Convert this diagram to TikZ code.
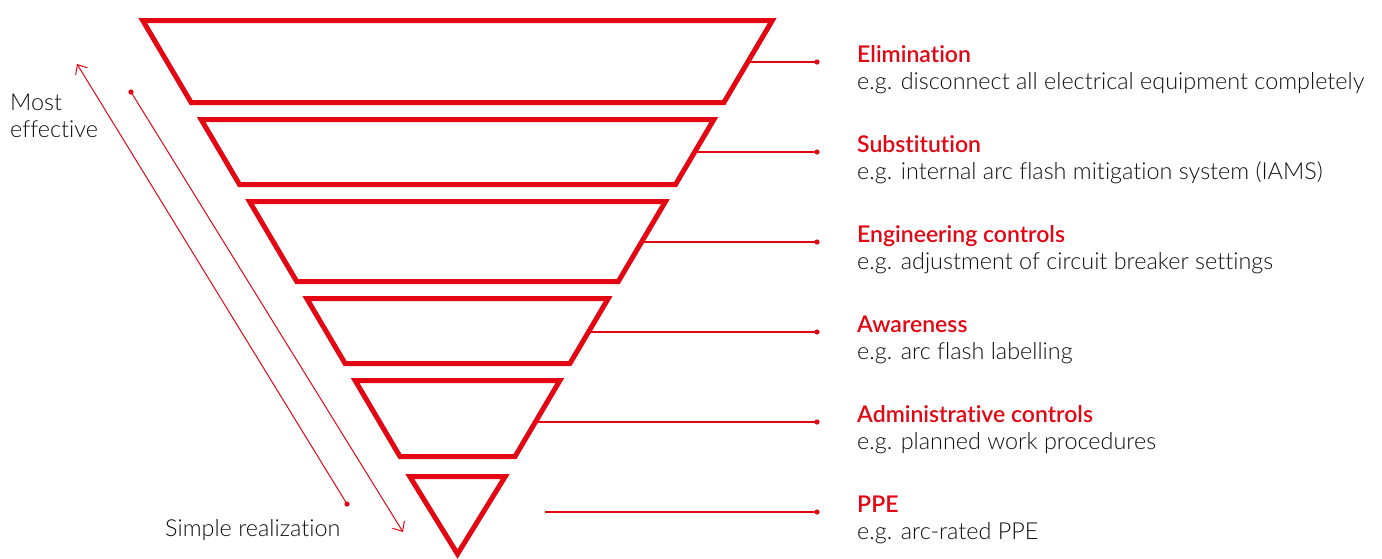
\documentclass[tikz,border=0pt]{standalone}
\usepackage{fontspec}
\setmainfont{Lato}[UprightFont=* Light, BoldFont=* Semibold, Ligatures=NoCommon]
\usetikzlibrary{arrows.meta}
\definecolor{abbred}{RGB}{227,6,19}
\definecolor{textgrey}{RGB}{15,15,15}

\begin{document}
\begin{tikzpicture}[x=1pt, y=-1pt,
        tier/.style={draw=abbred, line width=5pt, fill=white},
        leader/.style={draw=abbred, line width=1.1pt},
        cim/.style={anchor=base west, inner sep=0pt, text=abbred, font=\fontsize{23}{27}\selectfont\bfseries},
        pelda/.style={anchor=base west, inner sep=0pt, text=textgrey, font=\fontsize{23.4}{27}\selectfont},
        felirat/.style={anchor=base west, inner sep=0pt, text=textgrey, font=\fontsize{23.4}{27}\selectfont}]
        \useasboundingbox (0,0) rectangle (1382,558);
        \pgfmathsetmacro{\kozep}{457.5}
        \pgfmathsetmacro{\csucs}{554}
        \pgfmathsetmacro{\lejtes}{0.59}

        % leaders first, so the tiers cover their ends
        \foreach \i/\y in {1/62, 2/152, 3/242, 4/332, 5/422} {
                \coordinate (e\i) at ({\kozep + \lejtes*(\csucs-\y)}, \y);
                \coordinate (d\i) at (817, \y);
                \draw[leader] (e\i) -- (d\i);
                \fill[abbred] (d\i) circle (2.6pt);
            }
        \coordinate (e6) at (545, 512);
        \coordinate (d6) at (817, 512);
        \draw[leader] (e6) -- (d6);
        \fill[abbred] (d6) circle (2.6pt);

        % the inverted pyramid
        \foreach \fent/\lent in {20.5/102.5, 119.5/184.5, 201.5/281.5, 298.5/363.5, 380.5/456.5} {
                \draw[tier] ({\kozep - \lejtes*(\csucs-\fent)}, \fent)
                -- ({\kozep + \lejtes*(\csucs-\fent)}, \fent)
                -- ({\kozep + \lejtes*(\csucs-\lent)}, \lent)
                -- ({\kozep - \lejtes*(\csucs-\lent)}, \lent) -- cycle;
            }
        \draw[tier] ({\kozep - \lejtes*(\csucs-476.5)-2}, 476.5)
        -- ({\kozep + \lejtes*(\csucs-476.5)+2}, 476.5)
        -- (\kozep, \csucs) -- cycle;

        % labels
        \foreach \i/\y/\nev/\szoveg in {
                1/62/Elimination/{e.g. disconnect all electrical equipment completely},
                2/152/Substitution/{e.g. internal arc flash mitigation system (IAMS)},
                3/242/{Engineering controls}/{e.g. adjustment of circuit breaker settings},
                4/332/Awareness/{e.g. arc flash labelling},
                5/422/{Administrative controls}/{e.g. planned work procedures},
                6/512/PPE/{e.g. arc-rated PPE}} {
                \node[cim] (t\i) at (857, \y) {\nev};
                \node[pelda] (s\i) at (857, {\y+27}) {\szoveg};
            }

        % scale on the left
        \coordinate (fent1) at (77, 64);
        \coordinate (lent1) at (347, 504);
        \coordinate (fent2) at (131, 92);
        \coordinate (lent2) at (403, 532);
        \draw[leader, line width=1pt, -{Straight Barb[length=8pt, width=14pt]}] (lent1) -- (fent1);
        \fill[abbred] (lent1) circle (2.6pt);
        \draw[leader, line width=1pt, -{Straight Barb[length=8pt, width=14pt]}] (fent2) -- (lent2);
        \fill[abbred] (fent2) circle (2.6pt);

        \node[felirat] (most) at (10, 110) {Most};
        \node[felirat] (effective) at (10, 137) {effective};
        \node[felirat] (simple) at (165, 536) {Simple realization};
    \end{tikzpicture}
\end{document}
